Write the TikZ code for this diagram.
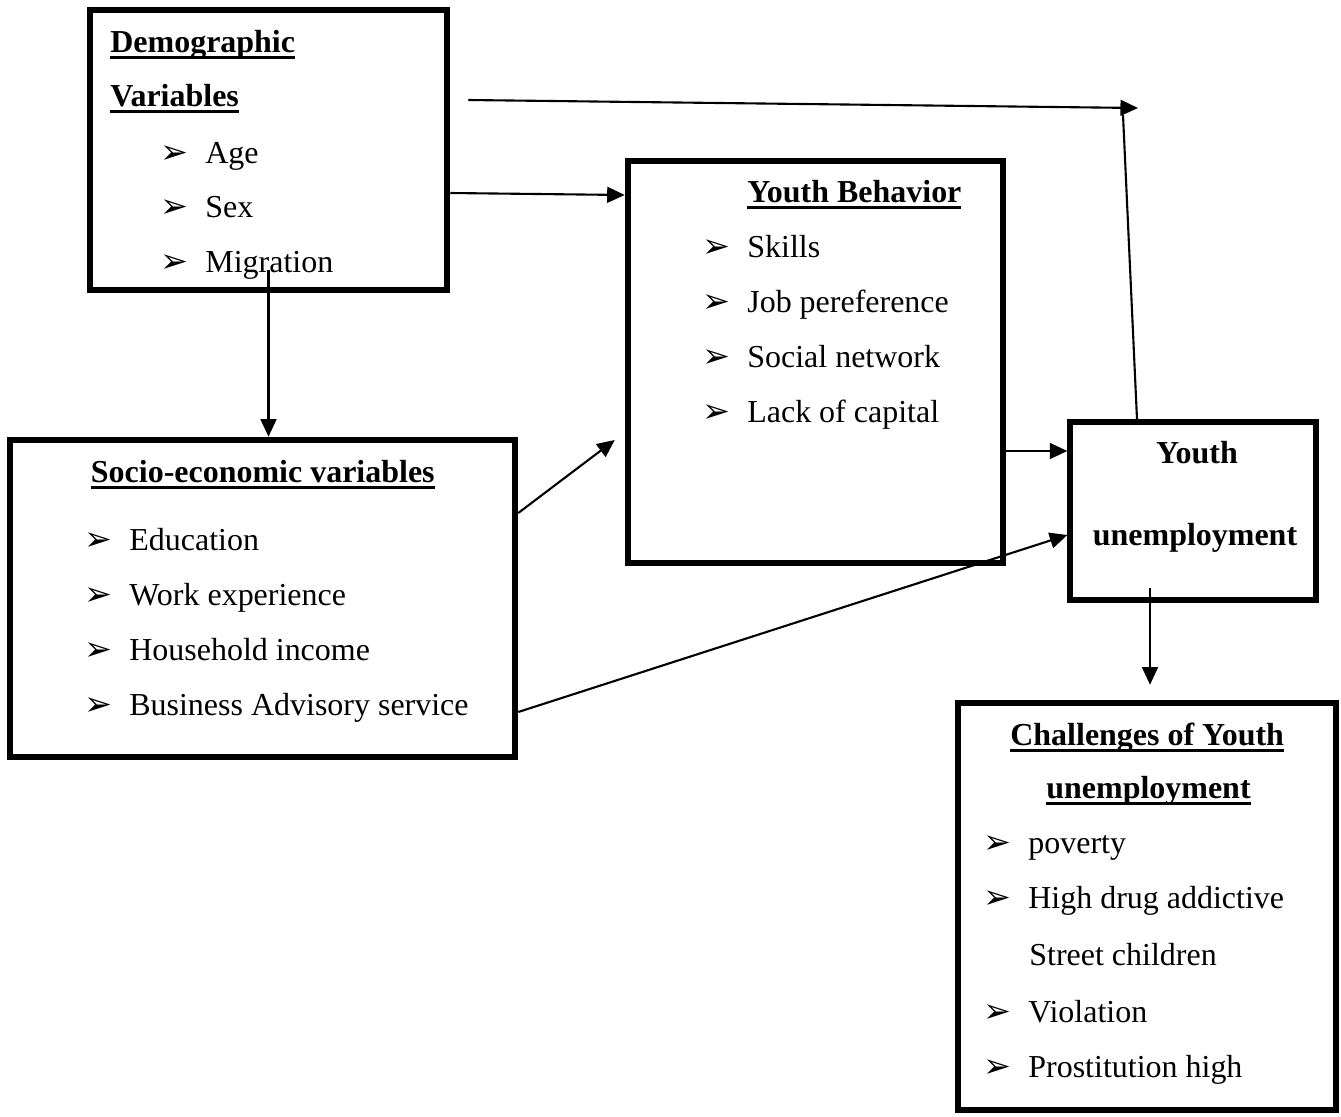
\documentclass[tikz,border=0pt]{standalone}
\usepackage{fontspec}
\setmainfont{Liberation Serif}
\newfontfamily\symfont{DejaVu Sans}
\usetikzlibrary{arrows.meta, calc}

\newdimen\px \px=0.02cm
\newcommand{\bul}{{\symfont\fontsize{19pt}{19pt}\selectfont ➢}}
\newcommand{\itm}[1]{\makebox[45\px][l]{\bul}#1}
\newcommand{\hd}[1]{\setbox0\hbox{\bfseries #1}\rlap{\rule[-7\px]{\wd0}{3\px}}\box0}

\tikzset{
  box/.style={draw, rectangle, line width=3.7pt, inner sep=0pt},
  txt/.style={anchor=base west, inner sep=0pt, font=\fontsize{18.2pt}{22pt}\selectfont},
  conn/.style={line width=1.2pt, -{Triangle[length=10pt,width=9pt]}},
}

\begin{document}
\begin{tikzpicture}[x=0.02cm, y=-0.02cm]
\useasboundingbox (0,0) rectangle (1341,1116);

% boxes
\node[box, minimum width=357\px, minimum height=280\px] (demo) at (268.5,150) {};
\node[box, minimum width=375\px, minimum height=402\px] (behav) at (815.5,362) {};
\node[box, minimum width=505\px, minimum height=317\px] (socio) at (262.5,598.5) {};
\node[box, line width=3pt, minimum width=246\px, minimum height=178\px] (unemp) at (1193,511) {};
\node[box, minimum width=378\px, minimum height=407\px] (chall) at (1147,906.5) {};

% titles
\node[txt] (demo-t1) at (110,52) {\hd{Demographic}};
\node[txt] (demo-t2) at (110,106) {\hd{Variables}};
\node[txt] (behav-t) at (747,202) {\hd{Youth Behavior}};
\node[txt] (socio-t) at (90.6,482) {\hd{Socio-economic variables}};
\node[txt, anchor=base] (unemp-t1) at (1197,463) {\textbf{Youth}};
\node[txt, anchor=base] (unemp-t2) at (1195,545) {\textbf{unemployment}};
\node[txt] (chall-t1) at (1010,745) {\hd{Challenges of Youth}};
\node[txt] (chall-t2) at (1046,798) {\hd{unemployment}};

% bullet lists
\foreach \lbl [count=\i] in {Age, Sex, Migration}
  \node[txt] (demo-\i) at (160,{163+54.5*(\i-1)}) {\itm{\lbl}};
\foreach \lbl [count=\i] in {Skills, Job pereference, Social network, Lack of capital}
  \node[txt] (behav-\i) at (702,{257+55.3*(\i-1)}) {\itm{\lbl}};
\foreach \lbl [count=\i] in {Education, Work experience, Household income, Business Advisory service}
  \node[txt] (socio-\i) at (84,{550+55*(\i-1)}) {\itm{\lbl}};
\foreach \lbl/\yy [count=\i] in {poverty/853, High drug addictive/908, Violation/1022, Prostitution high/1077}
  \node[txt] (chall-\i) at (983,\yy) {\itm{\lbl}};
\node[txt] (chall-s) at (1029,965) {Street children};

% connectors
\coordinate (topend) at (1138,108);
\coordinate (bend) at (1123,115);
\draw[conn] ([xshift=18\px,yshift=50\px]demo.east) -- (topend);
\draw[line width=1.2pt] ([xshift=-56\px]unemp.north) -- (bend);
\draw[conn] ([yshift=-43\px]demo.east) -- ([yshift=167\px]behav.west);
\draw[conn] ([yshift=23\px]demo.south) -- (demo.south |- socio.north);
\draw[conn] ([yshift=85.5\px]socio.east) -- ([xshift=-10\px,yshift=-78\px]behav.west);
\draw[conn] ([yshift=-89\px]behav.east) -- ([yshift=60\px]unemp.west);
\draw[conn] ([yshift=-113.5\px]socio.east) -- ([yshift=-24\px]unemp.west);
\draw[conn] ([xshift=-43\px,yshift=15\px]unemp.south) -- ([xshift=3\px,yshift=15\px]chall.north);
\end{tikzpicture}
\end{document}
